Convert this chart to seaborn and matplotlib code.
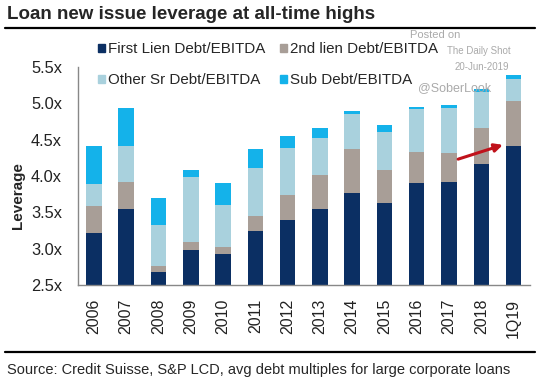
import matplotlib
matplotlib.use("Agg")
import matplotlib.pyplot as plt
from matplotlib.patches import Patch
from matplotlib.lines import Line2D
import pandas as pd
import numpy as np
import seaborn as sns

# Data (segment sizes, in x EBITDA)
periods = ["2006", "2007", "2008", "2009", "2010", "2011", "2012",
           "2013", "2014", "2015", "2016", "2017", "2018", "1Q19"]
first_lien = [3.21, 3.54, 2.68, 2.98, 2.93, 3.24, 3.39, 3.54, 3.76, 3.63, 3.90, 3.92, 4.17, 4.41]
second_lien = [0.38, 0.38, 0.08, 0.11, 0.09, 0.21, 0.35, 0.47, 0.61, 0.45, 0.43, 0.39, 0.49, 0.62]
other_sr = [0.30, 0.49, 0.56, 0.89, 0.58, 0.66, 0.65, 0.51, 0.48, 0.53, 0.59, 0.63, 0.49, 0.30]
sub_debt = [0.52, 0.52, 0.38, 0.10, 0.31, 0.26, 0.16, 0.14, 0.04, 0.09, 0.03, 0.04, 0.05, 0.06]
series_names = ["First Lien Debt/EBITDA", "2nd lien Debt/EBITDA",
                "Other Sr Debt/EBITDA", "Sub Debt/EBITDA"]
colors = ["#0b2f63", "#a89e97", "#a9d1dd", "#14b2ea"]
y_ticks = [2.5, 3.0, 3.5, 4.0, 4.5, 5.0, 5.5]

df = pd.DataFrame({"period": periods, series_names[0]: first_lien,
                   series_names[1]: second_lien, series_names[2]: other_sr,
                   series_names[3]: sub_debt})
# cumulative tops for stacking by overdraw
cum = df[series_names].cumsum(axis=1)
cum["period"] = df["period"]

sns.set_style("white")
plt.rcParams["font.family"] = ["Liberation Sans", "DejaVu Sans"]

fig = plt.figure(figsize=(5.4, 3.83), dpi=100)
ax = fig.add_axes([0.144, 0.256, 0.837, 0.569])

for name, col in reversed(list(zip(series_names, colors))):
    sns.barplot(data=cum, x="period", y=name, color=col, width=0.48,
                saturation=1, linewidth=0, ax=ax)

ax.set_ylim(2.5, 5.5)
ax.set_xlim(-0.46, 13.46)
ax.set_yticks(y_ticks)
ax.set_yticklabels([f"{t:.1f}x" for t in y_ticks], fontsize=11.8, color="#222222")
ax.set_xticks(range(len(periods)))
ax.set_xticklabels(periods, rotation=90, fontsize=11.5, color="#222222")
ax.set_xticks(np.arange(-0.5, len(periods), 1), minor=True)
ax.tick_params(axis="x", which="major", length=0, pad=10)
ax.tick_params(axis="x", which="minor", length=4, color="#888888", direction="out")
ax.tick_params(axis="y", length=7, color="#888888", direction="out", pad=4.3)
ax.set_xlabel("")
ax.set_ylabel("Leverage", fontsize=11, fontweight="bold")
ax.yaxis.set_label_coords(-0.117, 0.41)
sns.despine(ax=ax)
for s in ["left", "bottom"]:
    ax.spines[s].set_color("#888888")
    ax.spines[s].set_linewidth(1)

handles = [Patch(color=c, label=n) for n, c in zip(series_names, colors)]
order = [0, 2, 1, 3]
ax.legend([handles[i] for i in order], [series_names[i] for i in order],
          ncol=2, frameon=False, fontsize=10.9, loc="upper left",
          bbox_to_anchor=(0.170, 0.905), bbox_transform=fig.transFigure,
          handlelength=0.45, handleheight=0.45, handletextpad=0.2,
          columnspacing=1.0, labelspacing=1.1, borderaxespad=0)

# red arrow
ax.annotate("", xy=(12.75, 4.44), xytext=(11.2, 4.22),
            arrowprops=dict(arrowstyle="-|>", color="#c0121b", lw=2.2,
                            mutation_scale=12))

# title, rules and source
fig.text(0.013, 0.961, "Loan new issue leverage at all-time highs",
         fontsize=13.5, fontweight="bold", va="center", ha="left")
fig.add_artist(Line2D([0.01, 0.99], [0.926, 0.926], color="black", lw=1.6))
fig.add_artist(Line2D([0.01, 0.99], [0.081, 0.081], color="black", lw=1.6))
fig.text(0.013, 0.034, "Source: Credit Suisse, S&P LCD, avg debt multiples for large corporate loans",
         fontsize=10.5, va="center", ha="left")

# watermark
fig.text(0.805, 0.909, "Posted on", fontsize=8, color="#aaaaaa", ha="center", va="center")
fig.text(0.886, 0.867, "The Daily Shot", fontsize=7, color="#aaaaaa", ha="center", va="center")
fig.text(0.893, 0.825, "20-Jun-2019", fontsize=7, color="#aaaaaa", ha="center", va="center")
fig.text(0.841, 0.771, "@SoberLook", fontsize=9, color="#aaaaaa", ha="center", va="center")

fig.savefig("out.png", dpi=100)
